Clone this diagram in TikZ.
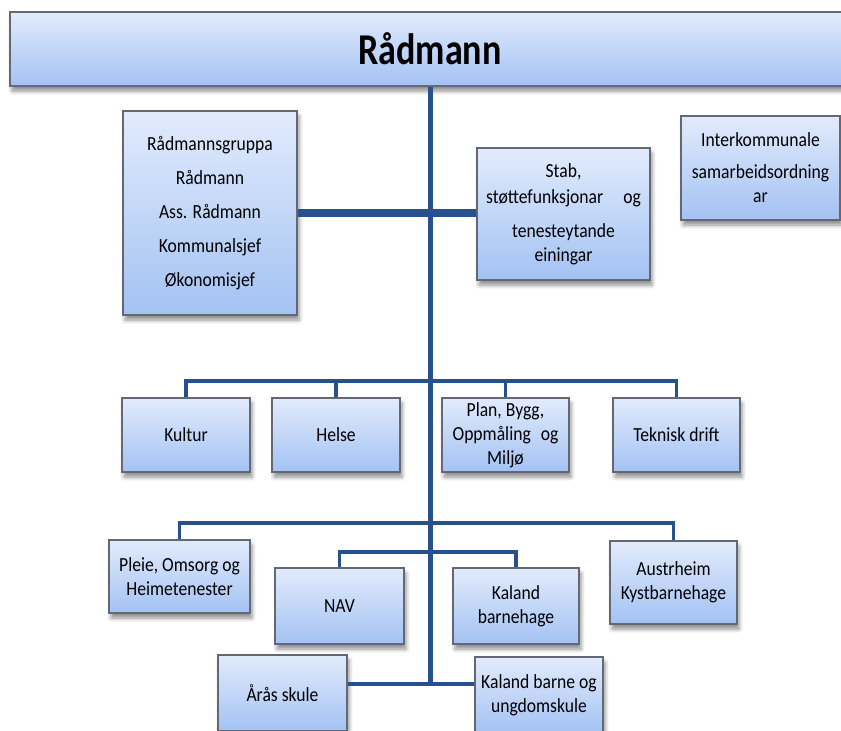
\documentclass[tikz,border=0pt]{standalone}
\usepackage{fontspec}
\setmainfont{Carlito}
\newfontfamily\condfont[FakeStretch=0.88]{Carlito}
\newfontfamily\titlefont[FakeStretch=0.82]{Carlito}
\usetikzlibrary{shadows.blur}
\definecolor{conn}{RGB}{40,80,140}
\definecolor{btop}{RGB}{226,235,252}
\definecolor{bbot}{RGB}{163,194,243}
\definecolor{bord}{RGB}{100,104,114}
\begin{document}
\begin{tikzpicture}[x=1pt,y=-1pt,
  box/.style={draw=bord, line width=1.3pt, top color=btop, bottom color=bbot,
    blur shadow={shadow xshift=2pt, shadow yshift=-5pt, shadow blur radius=4pt, shadow opacity=45},
    align=center, font=\condfont\fontsize{20}{24}\selectfont, inner sep=0pt},
  trunk/.style={draw=conn, line width=5pt},
  thick conn/.style={draw=conn, line width=8pt},
  bus/.style={draw=conn, line width=3.5pt},
]
\useasboundingbox (0,0) rectangle (841,731);
\begin{scope}
\clip (0,0) rectangle (841,731);
% boxes
\node[box, minimum width=840pt, minimum height=74pt, font=\titlefont\bfseries\fontsize{44}{48}\selectfont] (title) at (430,49) {Rådmann};
\node[box, minimum width=174pt, minimum height=204pt] (rg) at (210,213)
  {Rådmannsgruppa\\[10pt]Rådmann\\[10pt]Ass. Rådmann\\[10pt]Kommunalsjef\\[10pt]Økonomisjef};
\node[box, minimum width=173pt, minimum height=132pt] (stab) at (563.5,214)
  {Stab,\\[2pt]støttefunksjonar\quad og\\[10pt]tenesteytande\\einingar};
\node[box, minimum width=159pt, minimum height=104pt] (ik) at (760.5,168)
  {Interkommunale\\[8pt]samarbeidsordning\\ar};
\node[box, minimum width=128pt, minimum height=74pt] (kultur) at (186,435) {Kultur};
\node[box, minimum width=128pt, minimum height=74pt] (helse) at (336,435) {Helse};
\node[box, minimum width=127pt, minimum height=74pt] (plan) at (505.5,435) {Plan, Bygg,\\Oppmåling\enspace og\\Miljø};
\node[box, minimum width=127pt, minimum height=74pt] (tek) at (676.5,435) {Teknisk drift};
\node[box, minimum width=141pt, minimum height=73pt] (pleie) at (179.5,576.5) {Pleie, Omsorg og\\Heimetenester};
\node[box, minimum width=127pt, minimum height=83pt] (aust) at (673.5,582.5) {Austrheim\\Kystbarnehage};
\node[box, minimum width=129pt, minimum height=76pt] (nav) at (339.5,606) {NAV};
\node[box, minimum width=126pt, minimum height=76pt] (kbh) at (516,606) {Kaland\\barnehage};
\node[box, minimum width=129pt, minimum height=76pt] (aras) at (282.5,693) {Årås skule};
\node[box, minimum width=128pt, minimum height=76pt] (kbu) at (539,695) {Kaland barne og\\ungdomskule};
% connector coordinates
\coordinate (bot) at (430,684);
\coordinate (b1) at (430,381);
\coordinate (b2) at (430,523);
\coordinate (b3) at (430,552);
% connectors
\draw[trunk] (title.south) -- (bot);
\draw[thick conn] (rg.east) -- (rg.east -| stab.west);
\draw[bus] (kultur.north) |- (b1) -| (tek.north);
\draw[bus] (helse.north) -- (helse.north |- b1);
\draw[bus] (plan.north) -- (plan.north |- b1);
\draw[bus] (pleie.north) |- (b2) -| (aust.north);
\draw[bus] (nav.north) |- (b3) -| (kbh.north);
\draw[bus] (aras.east |- bot) -- (bot) -- (kbu.west |- bot);
\end{scope}
\end{tikzpicture}
\end{document}
